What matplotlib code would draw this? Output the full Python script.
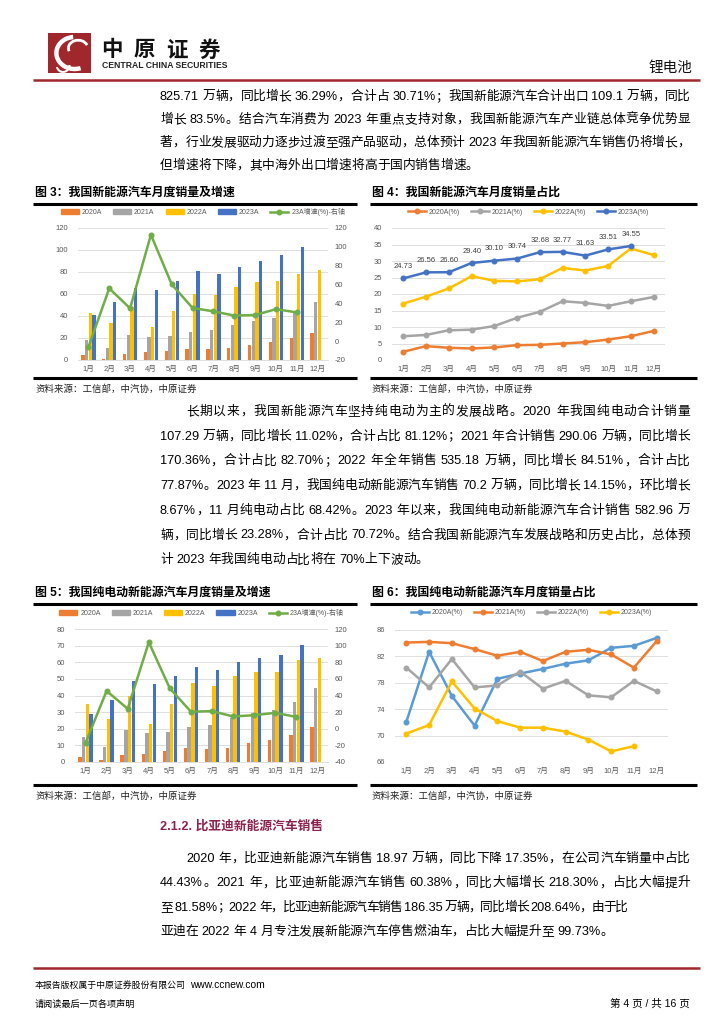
import re
import matplotlib
matplotlib.use('Agg')
import matplotlib.pyplot as plt
import numpy as np
from matplotlib.font_manager import FontProperties
from matplotlib.lines import Line2D
from matplotlib.patches import Rectangle, Patch, Arc

FAM = ['Liberation Sans', 'Noto Sans CJK SC']
plt.rcParams['font.family'] = FAM
plt.rcParams['axes.unicode_minus'] = False

W, H = 724, 1024
fig = plt.figure(figsize=(7.24, 10.24), dpi=100)
renderer = fig.canvas.get_renderer()


def X(x):
    return x / W


def Y(y):
    return 1 - y / H


# ---------------- data ----------------
months = [f'{i}月' for i in range(1, 13)]

# 图3 新能源汽车月度销量（万辆）及23A增速（%）
nev_2020 = [4.4, 1.3, 5.3, 7.2, 8.2, 10.4, 9.8, 10.9, 13.8, 16.0, 20.0, 24.8]
nev_2021 = [17.9, 11.0, 22.6, 20.6, 21.7, 25.6, 27.1, 32.1, 35.7, 38.3, 45.0, 53.1]
nev_2022 = [43.1, 33.4, 48.4, 29.9, 44.7, 59.6, 59.3, 66.6, 70.8, 71.4, 78.6, 81.4]
nev_2023 = [40.8, 52.5, 65.3, 63.6, 71.7, 80.6, 78.0, 84.6, 90.4, 95.6, 102.6]
nev_growth_23 = [-6.3, 55.9, 34.8, 112.8, 60.2, 35.2, 31.6, 27.1, 27.7, 33.9, 30.5]

# 图4 新能源汽车月度销量占比（%）
pen_2020 = [2.5, 4.2, 3.7, 3.5, 3.8, 4.5, 4.6, 5.0, 5.4, 6.2, 7.2, 8.8]
pen_2021 = [7.2, 7.6, 9.0, 9.2, 10.3, 12.8, 14.6, 17.8, 17.3, 16.4, 17.8, 19.1]
pen_2022 = [17.1, 19.2, 21.7, 25.4, 24.0, 23.8, 24.5, 27.9, 27.1, 28.5, 33.8, 31.8]
pen_2023 = [24.73, 26.56, 26.60, 29.40, 30.10, 30.74, 32.68, 32.77, 31.63, 33.51, 34.55]

# 图5 纯电动新能源汽车月度销量（万辆）及23A增速（%）
bev_2020 = [3.2, 1.0, 4.0, 5.0, 6.5, 8.4, 7.7, 8.7, 11.4, 13.1, 16.5, 21.0]
bev_2021 = [15.0, 9.0, 19.0, 17.3, 18.0, 21.0, 22.0, 26.6, 29.6, 31.3, 35.9, 44.8]
bev_2022 = [34.9, 25.6, 39.7, 22.8, 34.9, 47.4, 45.5, 52.0, 53.9, 53.9, 61.5, 62.5]
bev_2023 = [28.6, 37.3, 48.8, 47.0, 51.9, 57.1, 55.5, 59.9, 62.7, 64.5, 70.2]
bev_growth_23 = [-17.0, 45.5, 24.0, 104.0, 48.5, 20.5, 21.2, 14.8, 16.3, 19.2, 14.2]

# 图6 纯电动新能源汽车月度销量占比（%）
bshare_2020 = [72.1, 82.7, 76.0, 71.5, 78.6, 79.4, 80.1, 80.9, 81.4, 83.3, 83.6, 84.8]
bshare_2021 = [84.1, 84.2, 84.0, 83.1, 82.1, 82.7, 81.3, 82.7, 83.0, 82.3, 80.3, 84.3]
bshare_2022 = [80.3, 77.3, 81.6, 77.3, 77.6, 79.7, 77.1, 78.3, 76.1, 75.8, 78.3, 76.7]
bshare_2023 = [70.3, 71.6, 78.2, 74.1, 72.2, 71.2, 71.2, 70.6, 69.4, 67.6, 68.4]

bar_labels = ['2020A', '2021A', '2022A', '2023A']
growth_label = '23A增速(%)-右轴'
pct_labels = ['2020A(%)', '2021A(%)', '2022A(%)', '2023A(%)']

ORANGE, GRAY, YELLOW, BLUE, GREEN, LBLUE = '#ED7D31', '#A5A5A5', '#FFC000', '#4472C4', '#70AD47', '#5B9BD5'
TICK_C = '#595959'
GRID_C = '#D9D9D9'
RED = '#A0282D'

# ---------------- helpers ----------------
TOK = re.compile(r'[A-Za-z0-9.%+\-/]+|\s+|.')


def text_w(s, prop):
    return renderer.get_text_width_height_descent(s, prop, ismath=False)[0]


def draw_line(text, x0, x1, y, size=9.2, justify=True, color='black', weight='normal'):
    prop = FontProperties(family=FAM, size=size, weight=weight)
    toks = TOK.findall(text)
    sp = text_w('a a', prop) - text_w('aa', prop)
    widths = [sp * len(t) if t.isspace() else text_w(t, prop) for t in toks]
    n = len(toks)
    extra = (x1 - x0 - sum(widths)) / (n - 1) if (justify and n > 1) else 0
    x = x0
    for t, w_ in zip(toks, widths):
        if not t.isspace():
            fig.text(X(x), Y(y), t, fontproperties=prop, color=color, va='center', ha='left')
        x += w_ + extra


def hline(x0, x1, y, color='black', lw=2.0):
    fig.add_artist(Line2D([X(x0), X(x1)], [Y(y), Y(y)], color=color, lw=lw,
                          transform=fig.transFigure, solid_capstyle='butt'))


def style_axis(ax, ylim, yticks):
    ax.set_ylim(*ylim)
    ax.set_yticks(yticks)
    for s in ax.spines.values():
        s.set_visible(False)
    ax.tick_params(axis='both', length=0, labelsize=5.5, labelcolor=TICK_C)
    ax.tick_params(axis='y', pad=7)
    ax.tick_params(axis='x', pad=4)


def chart_frame(x0, x1, title, ytitle, ybot, source):
    fig.text(X(x0 + 2), Y(ytitle), title, fontsize=8.6, fontweight='bold', va='center', ha='left')
    hline(x0, x1, ytitle + 11, lw=2.2)
    hline(x0, x1, ybot, lw=2.2)
    fig.text(X(x0 + 2), Y(ybot + 11), source, fontsize=6.8, va='center', ha='left', color='#222222')


def bar_chart(px, series, colors, growth, lylim, lyticks, rylim, ryticks, legend_y):
    l, r, t, b = px
    ax = fig.add_axes([X(l), Y(b), (r - l) / W, (b - t) / H])
    x = np.arange(12)
    w = 0.175
    handles = []
    for i, (vals, c) in enumerate(zip(series, colors)):
        xs = x[:len(vals)] + (i - 1.5) * w
        ax.bar(xs, vals, width=w * 0.92, color=c, zorder=2)
        handles.append(Patch(color=c, label=bar_labels[i]))
    ax.set_xlim(-0.5, 11.5)
    style_axis(ax, lylim, lyticks)
    ax.grid(axis='y', color=GRID_C, lw=0.6)
    ax.set_axisbelow(True)
    ax.spines['bottom'].set_visible(True)
    ax.spines['bottom'].set_color(GRID_C)
    ax.spines['bottom'].set_linewidth(0.6)
    ax.set_xticks(x)
    ax.set_xticklabels(months)
    ax2 = ax.twinx()
    ax2.plot(x[:len(growth)], growth, color=GREEN, lw=1.8, marker='o', ms=3.3, zorder=5)
    style_axis(ax2, rylim, ryticks)
    ax2.tick_params(axis='y', pad=5)
    handles.append(Line2D([], [], color=GREEN, lw=1.8, marker='o', ms=3.3, label=growth_label))
    fig.legend(handles=handles, loc='center', bbox_to_anchor=(X((l + r) / 2), Y(legend_y)),
               ncol=5, frameon=False, fontsize=5, handlelength=2.6, handleheight=0.55,
               columnspacing=1.6, handletextpad=0.4, labelcolor=TICK_C)
    return ax


def line_chart(px, series, colors, ylim, yticks, legend_y, labels_last=False):
    l, r, t, b = px
    ax = fig.add_axes([X(l), Y(b), (r - l) / W, (b - t) / H])
    x = np.arange(12)
    handles = []
    for vals, c, lab in zip(series, colors, pct_labels):
        ax.plot(x[:len(vals)], vals, color=c, lw=1.8, marker='o', ms=3.3, zorder=3)
        handles.append(Line2D([], [], color=c, lw=1.8, marker='o', ms=3.3, label=lab))
    ax.set_xlim(-0.5, 11.5)
    style_axis(ax, ylim, yticks)
    ax.grid(axis='y', color=GRID_C, lw=0.6)
    ax.set_axisbelow(True)
    ax.set_xticks(x)
    ax.set_xticklabels(months)
    if labels_last:
        vals = series[-1]
        for i, v in enumerate(vals):
            ax.annotate(f'{v:.2f}', (i, v), xytext=(0, 6), textcoords='offset points',
                        ha='center', va='bottom', fontsize=5.5, color='#404040')
    fig.legend(handles=handles, loc='center', bbox_to_anchor=(X((l + r) / 2), Y(legend_y)),
               ncol=4, frameon=False, fontsize=5, handlelength=2.6,
               columnspacing=1.6, handletextpad=0.4, labelcolor=TICK_C)
    return ax


# ---------------- header ----------------
logo = fig.add_axes([X(48), Y(73), 43 / W, 40 / H])
logo.set_xlim(0, 1)
logo.set_ylim(0, 1)
logo.axis('off')
logo.add_patch(Rectangle((0, 0), 1, 1, color=RED))
logo.add_patch(Arc((0.62, 0.5), 0.85, 0.8, theta1=95, theta2=290, color='white', lw=3.2))
logo.add_patch(Arc((0.7, 0.62), 0.45, 0.4, theta1=20, theta2=200, color='white', lw=2.0))
logo.add_patch(Arc((0.35, 0.2), 0.3, 0.35, theta1=200, theta2=360, color='white', lw=1.5))

for i, ch in enumerate('中原证券'):
    fig.text(X(101 + i * 32.5), Y(50), ch, fontsize=15.5, fontweight='bold', va='center', ha='left',
             family=['Noto Sans CJK SC'], color='#111111')
fig.text(X(102), Y(66), 'CENTRAL CHINA SECURITIES', fontsize=6.2, fontweight='bold',
         va='center', ha='left', color='#222222')
fig.text(X(692), Y(68), '锂电池', fontsize=10.5, va='center', ha='right', color='#111111')
hline(33, 700, 80, color=RED, lw=1.8)

# ---------------- paragraph 1 ----------------
p1 = [
    '825.71 万辆，同比增长 36.29%，合计占 30.71%；我国新能源汽车合计出口 109.1 万辆，同比',
    '增长 83.5%。结合汽车消费为 2023 年重点支持对象，我国新能源汽车产业链总体竞争优势显',
    '著，行业发展驱动力逐步过渡至强产品驱动，总体预计 2023 年我国新能源汽车销售仍将增长，',
    '但增速将下降，其中海外出口增速将高于国内销售增速。',
]
for i, s in enumerate(p1):
    draw_line(s, 160, 690, 97 + i * 23, justify=(i < 3))

# ---------------- charts 3 & 4 ----------------
chart_frame(33, 357, '图 3：我国新能源汽车月度销量及增速', 193, 378, '资料来源：工信部，中汽协，中原证券')
chart_frame(370, 697, '图 4：我国新能源汽车月度销量占比', 193, 378, '资料来源：工信部，中汽协，中原证券')

bar_chart((78, 328, 228, 360), [nev_2020, nev_2021, nev_2022, nev_2023],
          [ORANGE, GRAY, YELLOW, BLUE], nev_growth_23,
          (0, 120), range(0, 121, 20), (-20, 120), range(-20, 121, 20), 212)
line_chart((392, 665, 228, 360), [pen_2020, pen_2021, pen_2022, pen_2023],
           [ORANGE, GRAY, YELLOW, BLUE], (0, 40), range(0, 41, 5), 212, labels_last=True)

# ---------------- paragraph 2 ----------------
p2 = [
    '长期以来，我国新能源汽车坚持纯电动为主的发展战略。2020 年我国纯电动合计销量',
    '107.29 万辆，同比增长 11.02%，合计占比 81.12%；2021 年合计销售 290.06 万辆，同比增长',
    '170.36%，合计占比 82.70%；2022 年全年销售 535.18 万辆，同比增长 84.51%，合计占比',
    '77.87%。2023 年 11 月，我国纯电动新能源汽车销售 70.2 万辆，同比增长 14.15%，环比增长',
    '8.67%，11 月纯电动占比 68.42%。2023 年以来，我国纯电动新能源汽车合计销售 582.96 万',
    '辆，同比增长 23.28%，合计占比 70.72%。结合我国新能源汽车发展战略和历史占比，总体预',
    '计 2023 年我国纯电动占比将在 70%上下波动。',
]
for i, s in enumerate(p2):
    draw_line(s, 186 if i == 0 else 160, 690, 412 + i * 24.7, justify=(i < 6))

# ---------------- charts 5 & 6 ----------------
chart_frame(33, 357, '图 5：我国纯电动新能源汽车月度销量及增速', 593, 785, '资料来源：工信部，中汽协，中原证券')
chart_frame(370, 697, '图 6：我国纯电动新能源汽车月度销量占比', 593, 785, '资料来源：工信部，中汽协，中原证券')

bar_chart((75, 328, 629, 762), [bev_2020, bev_2021, bev_2022, bev_2023],
          [ORANGE, GRAY, YELLOW, BLUE], bev_growth_23,
          (0, 80), range(0, 81, 10), (-40, 120), range(-40, 121, 20), 613)
line_chart((395, 668, 630, 762), [bshare_2020, bshare_2021, bshare_2022, bshare_2023],
           [LBLUE, ORANGE, GRAY, YELLOW], (66, 86), range(66, 87, 4), 613)

# ---------------- section 2.1.2 ----------------
fig.text(X(160), Y(826), '2.1.2. 比亚迪新能源汽车销售', fontsize=9.2, fontweight='bold',
         color='#8B2252', va='center', ha='left')
p3 = [
    '2020 年，比亚迪新能源汽车销售 18.97 万辆，同比下降 17.35%，在公司汽车销量中占比',
    '44.43%。2021 年，比亚迪新能源汽车销售 60.38%，同比大幅增长 218.30%，占比大幅提升',
    '至 81.58%；2022 年，比亚迪新能源汽车销售 186.35 万辆，同比增长 208.64%，由于比',
    '亚迪在 2022 年 4 月专注发展新能源汽车停售燃油车，占比大幅提升至 99.73%。',
]
for i, s in enumerate(p3):
    x0 = 186 if i == 0 else 160
    x1 = {0: 690, 1: 690, 2: 628}.get(i, 690)
    draw_line(s, x0, x1, 859 + i * 24.3, justify=(i < 3))

# ---------------- footer ----------------
hline(33, 700, 968, color=RED, lw=1.8)
fig.text(X(35), Y(985), '本报告版权属于中原证券股份有限公司', fontsize=6.4, va='center', ha='left')
fig.text(X(190), Y(985), 'www.ccnew.com', fontsize=7.4, va='center', ha='left')
fig.text(X(35), Y(1004), '请阅读最后一页各项声明', fontsize=6.6, va='center', ha='left')
fig.text(X(690), Y(1004), '第 4 页 / 共 16 页', fontsize=7.6, va='center', ha='right')

fig.savefig('out.png', dpi=100)
